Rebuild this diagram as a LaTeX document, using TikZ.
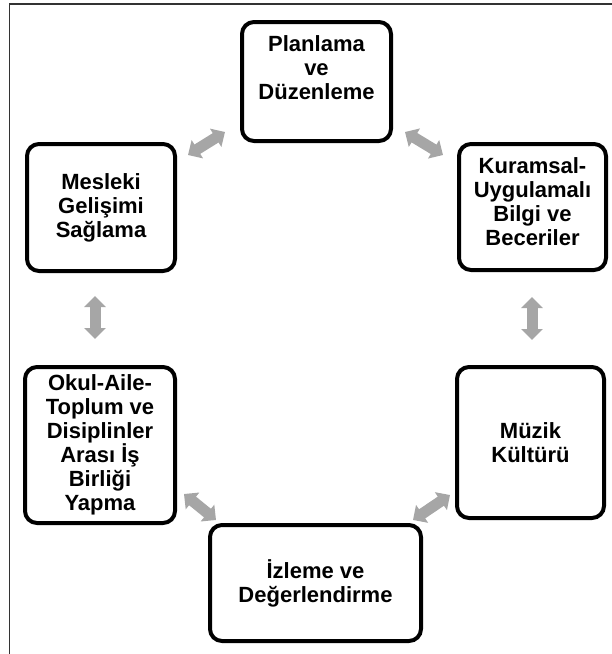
\documentclass[tikz,border=0pt]{standalone}
\usepackage{fontspec}
\setmainfont{Liberation Sans}
\usetikzlibrary{arrows.meta,calc}
\definecolor{arrowgray}{HTML}{A6A6A6}
\begin{document}
\begin{tikzpicture}[x=1pt,y=-1pt,
  box/.style={draw=black, line width=4pt, rounded corners=12pt, fill=white, inner sep=0pt, align=center, font=\fontsize{22}{24}\selectfont\bfseries},
  lbl/.style={align=center, font=\fontsize{22}{24}\selectfont\bfseries, inner sep=0pt},
  dbl/.style={draw=arrowgray, line width=11pt, {Triangle[length=11pt,width=21pt]}-{Triangle[length=11pt,width=21pt]}},
  frame/.style={draw=black!80, line width=1.5pt}
]
\useasboundingbox (0,0) rectangle (612,654);
\draw[frame] (9.5,654) -- (9.5,4) -- (612,4);

% boxes
\node[box, minimum width=149pt, minimum height=119pt] (T) at (316.5,81.5) {};
\node[lbl] (Tt) at (316.5,68) {Planlama\\ve\\Düzenleme};

\node[box, minimum width=148pt, minimum height=127pt] (L) at (101,207.5) {Mesleki\\Gelişimi\\Sağlama};

\node[box, minimum width=147pt, minimum height=126pt] (R) at (532.5,207) {};
\node[lbl] (Rt) at (532.5,202) {Kuramsal-\\Uygulamalı\\Bilgi ve\\Beceriler};

\node[box, minimum width=147pt, minimum height=151pt] (M) at (530.5,442.5) {Müzik\\Kültürü};

\node[box, minimum width=150pt, minimum height=156pt] (O) at (100,445) {Okul-Aile-\\Toplum ve\\Disiplinler\\Arası İş\\Birliği\\Yapma};

\node[box, minimum width=211pt, minimum height=116pt] (B) at (315.5,583) {İzleme ve\\Değerlendirme};

% arrow end points
\coordinate (a1s) at (188,155); \coordinate (a1e) at (225,132);
\coordinate (a2s) at (405,132); \coordinate (a2e) at (443,155);
\coordinate (a3s) at (95,296);  \coordinate (a3e) at (95,339);
\coordinate (a4s) at (532,297); \coordinate (a4e) at (532,340);
\coordinate (a5s) at (184,494); \coordinate (a5e) at (216,520);
\coordinate (a6s) at (413,520); \coordinate (a6e) at (450,495);

\draw[dbl] (a1s) -- (a1e);
\draw[dbl] (a2s) -- (a2e);
\draw[dbl] (a3s) -- (a3e);
\draw[dbl] (a4s) -- (a4e);
\draw[dbl] (a5s) -- (a5e);
\draw[dbl] (a6s) -- (a6e);
\end{tikzpicture}
\end{document}
